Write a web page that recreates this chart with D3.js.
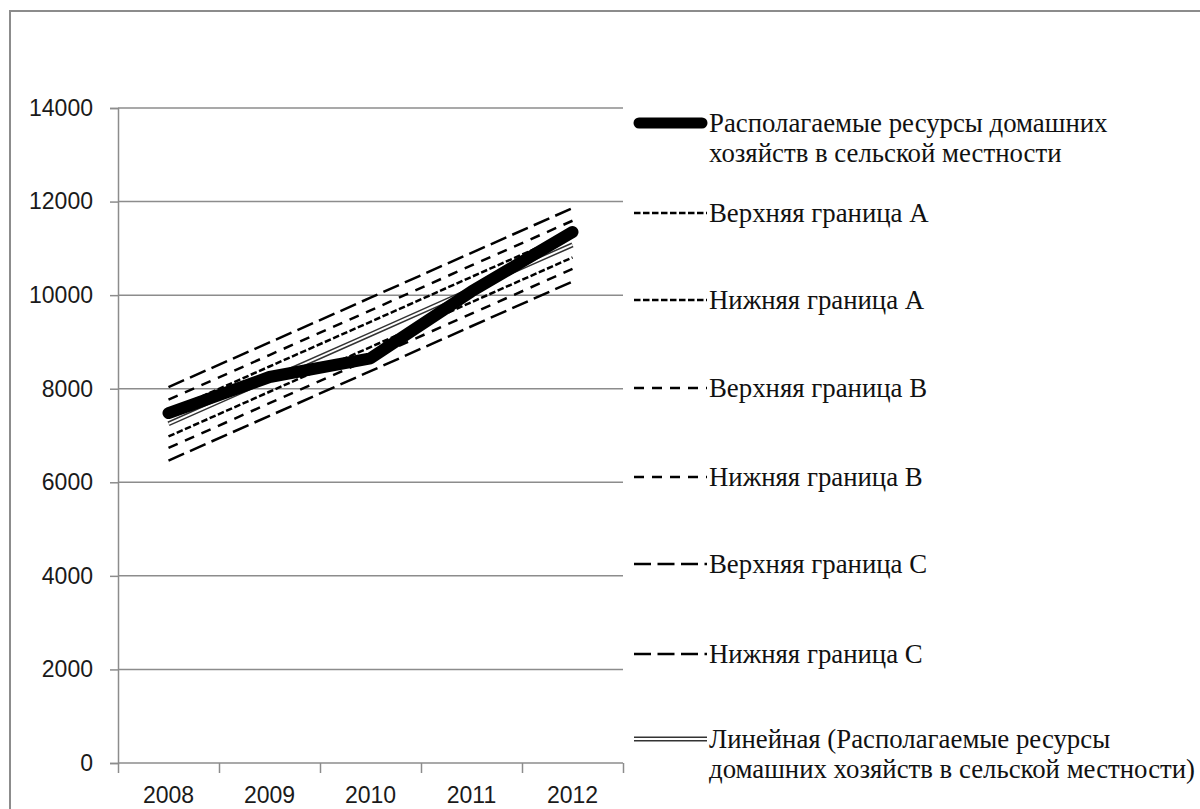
<!DOCTYPE html>
<html>
<head>
<meta charset="utf-8">
<script src="https://cdn.jsdelivr.net/npm/d3@7"></script>
<style>
  html, body { margin: 0; padding: 0; background: #fff; }
  svg { display: block; }
</style>
</head>
<body>
<svg id="chart" width="1200" height="809"></svg>
<script>
// ---- data ----
const years = ["2008", "2009", "2010", "2011", "2012"];
const resources = [7480, 8250, 8650, 10080, 11350];
const trendLinear = [7250, 8205, 9160, 10120, 11075];
const upperA = [7520, 8475, 9430, 10390, 11345];
const lowerA = [6980, 7935, 8890, 9850, 10805];
const upperB = [7765, 8720, 9675, 10635, 11590];
const lowerB = [6735, 7690, 8645, 9605, 10560];
const upperC = [8035, 8990, 9945, 10905, 11860];
const lowerC = [6465, 7420, 8375, 9335, 10290];
const yTicks = [0, 2000, 4000, 6000, 8000, 10000, 12000, 14000];

const legendLabels = [
  ["Располагаемые ресурсы домашних", "хозяйств в сельской местности"],
  ["Верхняя граница A"],
  ["Нижняя граница A"],
  ["Верхняя граница B"],
  ["Нижняя граница B"],
  ["Верхняя граница C"],
  ["Нижняя граница C"],
  ["Линейная (Располагаемые ресурсы", "домашних хозяйств в сельской местности)"]
];

(function () {
// ---- layout ----
const svg = d3.select("#chart");
const pLeft = 118, pRight = 623, pTop = 108, pBottom = 763;
const gridColor = "#8c8c8c";
const sansFont = "'Liberation Sans', Arial, sans-serif";
const serifFont = "'Liberation Serif', 'Times New Roman', serif";

// outer frame
svg.append("rect")
  .attr("x", 10).attr("y", 11).attr("width", 1220).attr("height", 840)
  .attr("fill", "none").attr("stroke", gridColor).attr("stroke-width", 2);

const x = d3.scaleBand().domain(years).range([pLeft, pRight]);
const xEdge = d3.scaleLinear().domain([0, years.length]).range([pLeft, pRight]);
const y = d3.scaleLinear().domain([0, 14000]).range([pBottom, pTop]);

// gridlines
svg.append("g").selectAll("line")
  .data(yTicks.filter(d => d !== 0))
  .join("line")
  .attr("x1", pLeft).attr("x2", pRight)
  .attr("y1", d => y(d)).attr("y2", d => y(d))
  .attr("stroke", gridColor).attr("stroke-width", 1.5);

// y axis
const yAxis = svg.append("g")
  .attr("transform", `translate(${pLeft},0)`)
  .call(d3.axisLeft(y).tickValues(yTicks).tickSize(8).tickPadding(17).tickFormat(d3.format("d")));
yAxis.select(".domain").attr("stroke", gridColor).attr("stroke-width", 1.5);
yAxis.selectAll(".tick line").attr("stroke", gridColor).attr("stroke-width", 1.5);
yAxis.selectAll("text").attr("font-family", sansFont).attr("font-size", 23).attr("fill", "#1a1a1a");

// x axis tick marks at category edges
const xTicksG = svg.append("g")
  .attr("transform", `translate(0,${pBottom})`)
  .call(d3.axisBottom(xEdge).tickValues(d3.range(years.length + 1)).tickSize(10).tickFormat(""));
xTicksG.select(".domain").attr("stroke", gridColor).attr("stroke-width", 1.5).attr("d", `M${pLeft},0H${pRight}`);
xTicksG.selectAll(".tick line").attr("stroke", gridColor).attr("stroke-width", 1.5);

// x labels
const xLab = svg.append("g")
  .attr("transform", `translate(0,${pBottom})`)
  .call(d3.axisBottom(x).tickSize(0).tickPadding(0));
xLab.select(".domain").remove();
xLab.selectAll("text")
  .attr("y", 40).attr("dy", null)
  .attr("font-family", sansFont).attr("font-size", 23).attr("fill", "#1a1a1a");

// lines
const line = d3.line().x((d, i) => x(years[i]) + x.bandwidth() / 2).y(d => y(d));

const plot = svg.append("g");
// trend (double line)
plot.append("path").attr("d", line(trendLinear)).attr("fill", "none")
  .attr("stroke", "#333").attr("stroke-width", 5);
plot.append("path").attr("d", line(trendLinear)).attr("fill", "none")
  .attr("stroke", "#fff").attr("stroke-width", 2);
// main series
plot.append("path").attr("d", line(resources)).attr("fill", "none")
  .attr("stroke", "#000").attr("stroke-width", 12)
  .attr("stroke-linecap", "round").attr("stroke-linejoin", "round");

const dashA = "6.5,2.5", dashB = "10,8", dashC = "17,6.5";
const bands = [
  [upperA, dashA], [lowerA, dashA],
  [upperB, dashB], [lowerB, dashB],
  [upperC, dashC], [lowerC, dashC]
];
bands.forEach(([vals, dash]) => {
  plot.append("path").attr("d", line(vals)).attr("fill", "none")
    .attr("stroke", "#000").attr("stroke-width", 2.5)
    .attr("stroke-dasharray", dash);
});

// legend
const legendY = [123, 213, 300, 388, 477, 564, 654, 739];
const sx1 = 634, sx2 = 707, tx = 709;
const lg = svg.append("g");
legendY.forEach((ly, i) => {
  if (i === 0) {
    lg.append("line").attr("x1", sx1 + 5).attr("x2", sx2 - 5).attr("y1", ly).attr("y2", ly)
      .attr("stroke", "#000").attr("stroke-width", 11).attr("stroke-linecap", "round");
  } else if (i === 7) {
    lg.append("line").attr("x1", sx1).attr("x2", sx2).attr("y1", ly).attr("y2", ly)
      .attr("stroke", "#333").attr("stroke-width", 5);
    lg.append("line").attr("x1", sx1).attr("x2", sx2).attr("y1", ly).attr("y2", ly)
      .attr("stroke", "#fff").attr("stroke-width", 2);
  } else {
    const dash = bands[i - 1][1];
    lg.append("line").attr("x1", sx1).attr("x2", sx2).attr("y1", ly).attr("y2", ly)
      .attr("stroke", "#000").attr("stroke-width", 2.5).attr("stroke-dasharray", dash);
  }
  const t = lg.append("text").attr("x", tx).attr("y", ly + 9)
    .attr("font-family", serifFont).attr("font-size", 26.8).attr("fill", "#111");
  legendLabels[i].forEach((s, j) => {
    t.append("tspan").attr("x", tx).attr("dy", j === 0 ? 0 : 30).text(s);
  });
});
})();
</script>
</body>
</html>
